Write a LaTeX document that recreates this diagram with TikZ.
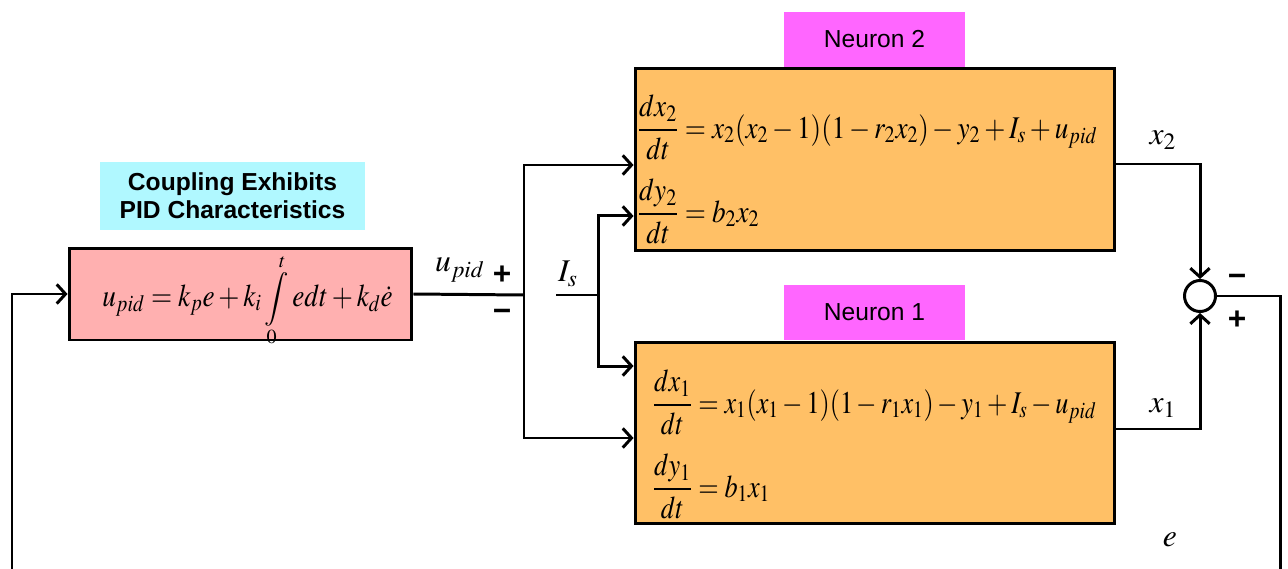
\documentclass[tikz,border=0pt]{standalone}
\usepackage{mathptmx}
\usepackage{graphicx}
\usepackage{fontspec}
\setmainfont{Liberation Serif}
\setsansfont{Liberation Sans}
\usetikzlibrary{arrows.meta}
\definecolor{pidfill}{RGB}{255,176,176}
\definecolor{notefill}{RGB}{176,248,255}
\definecolor{neufill}{RGB}{255,192,102}
\definecolor{labfill}{RGB}{255,102,255}
% condensed display equation
\newcommand{\condeq}[2]{\scalebox{#1}[1]{$\displaystyle #2$}}
\begin{document}
\begin{tikzpicture}[x=0.02cm,y=-0.02cm,
  wire/.style={line width=1.7pt},
  arr/.style={wire,-{Straight Barb[length=5pt,width=11pt,line width=1.7pt]}},
  block/.style={draw,line width=1.7pt,inner sep=0pt},
  tag/.style={inner sep=0pt,font=\sffamily\fontsize{14}{17}\selectfont},
  eqn/.style={inner sep=0pt,anchor=base west,font=\fontsize{18}{22}\selectfont},
  lbl/.style={inner sep=0pt,font=\fontsize{18}{22}\selectfont},
  sign/.style={inner sep=0pt,font=\sffamily\bfseries\fontsize{18}{20}\selectfont}]
\useasboundingbox (0,0) rectangle (1288,568);

% blocks
\node[block,fill=pidfill,minimum width=6.86cm,minimum height=1.84cm] (pid) at (240.5,294) {};
\node[tag,fill=notefill,minimum width=5.3cm,minimum height=1.36cm,align=center,
      font=\sffamily\bfseries\fontsize{14}{16}\selectfont] (note) at (232.5,196)
      {Coupling Exhibits\\PID Characteristics};
\node[block,fill=neufill,minimum width=9.6cm,minimum height=3.66cm] (n2) at (875,159.5) {};
\node[block,fill=neufill,minimum width=9.6cm,minimum height=3.64cm] (n1) at (875,433) {};
\node[tag,fill=labfill,minimum width=3.62cm,minimum height=1.1cm] (l2) at (874.5,39.5) {Neuron 2};
\node[tag,fill=labfill,minimum width=3.62cm,minimum height=1.1cm] (l1) at (874.5,312.5) {Neuron 1};
\node[draw,line width=1.7pt,circle,minimum size=0.62cm,inner sep=0pt] (sum) at (1200,296) {};

% equations
\node[eqn] (pideq) at (102,306) {\condeq{0.86}{u_{pid}=k_pe+k_i
  \mathop{\scalebox{1}[0.85]{$\displaystyle\int\limits_0^t$}} edt+k_d\dot e}};
\node[eqn] (e21) at (637,138) {\condeq{0.86}{\frac{dx_2}{dt}=x_2(x_2-1)(1-r_2x_2)-y_2+I_s+u_{pid}}};
\node[eqn] (e22) at (637,222) {\condeq{0.86}{\frac{dy_2}{dt}=b_2x_2}};
\node[eqn] (e11) at (652,413) {\condeq{0.83}{\frac{dx_1}{dt}=x_1(x_1-1)(1-r_1x_1)-y_1+I_s-u_{pid}}};
\node[eqn] (e12) at (652,497) {\condeq{0.83}{\frac{dy_1}{dt}=b_1x_1}};

% junction points
\coordinate (split) at (524,295);
\coordinate (isin) at (556,295);
\coordinate (isj) at (598,295);
\coordinate (fbr) at (1280,600);
\coordinate (fbl) at (12,600);

% connectors
\draw[wire] (pid.east) -- (split);
\draw[arr] (split) |- ([yshift=-0.11cm]n2.west);
\draw[arr] (split) |- ([yshift=-0.1cm]n1.west);
\draw[wire] (isin) -- (isj);
\draw[arr] (isj) |- ([yshift=-1.13cm]n2.west);
\draw[arr] (isj) |- ([yshift=1.34cm]n1.west);
\draw[arr] ([yshift=-0.09cm]n2.east) -| (sum.north);
\draw[arr] ([yshift=0.08cm]n1.east) -| (sum.south);
\draw[arr] (sum.east) -| (fbr) -- (fbl) |- (pid.west);

% labels and signs
\node[lbl] (upidl) at (460,270) {$u_{pid}$};
\node[lbl] (isl) at (568,274) {$I_s$};
\node[lbl] (x2l) at (1163,140) {$x_2$};
\node[lbl] (x1l) at (1163,408) {$x_1$};
\node[lbl] (el) at (1170,540) {$e$};
\node[sign] (sp1) at (502,275) {+};
\node[sign] (sm1) at (502,315) {−};
\node[sign] (sm2) at (1237,280) {−};
\node[sign] (sp2) at (1237,320) {+};
\end{tikzpicture}
\end{document}
